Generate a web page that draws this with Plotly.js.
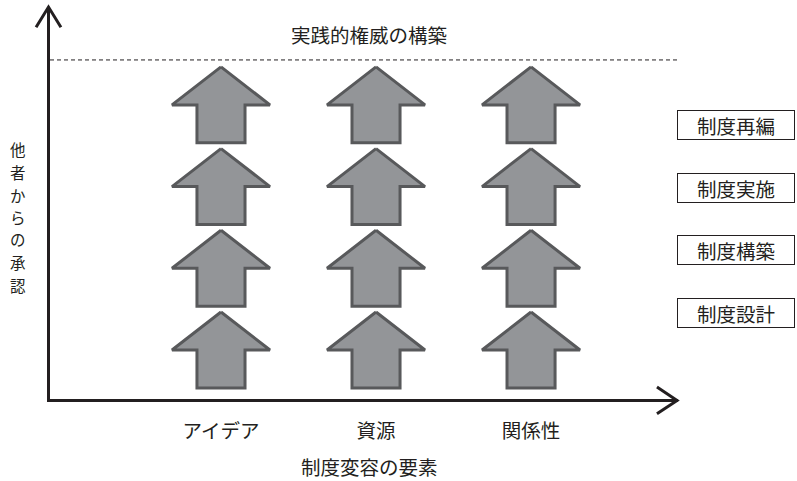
<!DOCTYPE html>
<html>
<head>
<meta charset="utf-8">
<script src="https://cdn.plot.ly/plotly-3.0.1.min.js"></script>
<style>html,body{margin:0;padding:0;background:#fff;}#chart{width:797px;height:481px;}</style>
</head>
<body>
<div id="chart"></div>
<script>
// ---- data ----
const elements = ["アイデア", "資源", "関係性"];          // x categories (制度変容の要素)
const stages = ["制度設計", "制度構築", "制度実施", "制度再編"]; // levels, bottom to top
const stageLabelY = [0.453, 1.224, 1.983, 2.754];        // level-box positions (data units)
const xTitle = "制度変容の要素";
const yTitle = "他者からの承認";
const topLabel = "実践的権威の構築";
const topLevel = 3.55;

// ---- styles ----
const FONT = "Noto Sans CJK JP, Noto Sans, sans-serif";
const INK = "#231f20";
const FS = 19.5;

// arrow geometry (data units)
const HW = 0.316, SW = 0.155, HH = 0.465;

const xs = [], ys = [];
elements.forEach((e, c) => {
  stages.forEach((s, l) => {
    const pts = [
      [c, l + HH], [c + HW, l], [c + SW, l], [c + SW, l - HH],
      [c - SW, l - HH], [c - SW, l], [c - HW, l], [c, l + HH]
    ];
    pts.forEach(p => { xs.push(p[0]); ys.push(p[1]); });
    xs.push(null); ys.push(null);
  });
});

const arrows = {
  type: "scatter", mode: "lines", x: xs, y: ys,
  fill: "toself", fillcolor: "#939598",
  line: {color: "#58595b", width: 3},
  connectgaps: false, hoverinfo: "skip", showlegend: false
};

const annotations = [];
// top label
annotations.push({xref: "paper", yref: "paper", x: 0.508, y: 0.931, text: topLabel,
  showarrow: false, font: {family: FONT, size: FS, color: INK}, xanchor: "center", yanchor: "middle"});
// x title
annotations.push({xref: "paper", yref: "paper", x: 0.508, y: -0.173, text: xTitle,
  showarrow: false, font: {family: FONT, size: FS, color: INK}, xanchor: "center", yanchor: "middle"});
// vertical y title (one character per line, spaced so they don't collide)
const yChars = Array.from(yTitle);
const pitch = 22.5, midPx = 217;
yChars.forEach((ch, i) => {
  const px = midPx + (i - (yChars.length - 1) / 2) * pitch;
  annotations.push({xref: "paper", yref: "paper", x: -0.051, y: (399 - px) / 392,
    text: ch, showarrow: false, font: {family: FONT, size: 15.5, color: INK},
    xanchor: "center", yanchor: "middle"});
});
// stage boxes
stages.forEach((s, i) => {
  annotations.push({xref: "paper", yref: "y", x: 1.092, y: stageLabelY[i], text: s,
    showarrow: false, font: {family: FONT, size: FS, color: INK},
    xanchor: "center", yanchor: "middle",
    width: 114, height: 26, borderpad: 1, borderwidth: 1, bordercolor: INK, bgcolor: "#fff"});
});

const shapes = [
  // dashed line
  {type: "line", xref: "paper", yref: "y", x0: 0, x1: 1.003, y0: topLevel, y1: topLevel,
   line: {color: INK, width: 1, dash: "4px,3px"}},
  // y-axis arrowhead
  {type: "path", xref: "paper", yref: "paper",
   path: "M -0.0222,0.9485 L -0.0024,1.0 L 0.0174,0.9485", line: {color: INK, width: 3}},
  // x-axis arrowhead
  {type: "path", xref: "paper", yref: "paper",
   path: "M 0.9665,0.0306 L 0.9985,-0.0036 L 0.9665,-0.0378", line: {color: INK, width: 3}}
];

const layout = {
  width: 797, height: 481,
  margin: {l: 50, r: 119, t: 7, b: 82},
  paper_bgcolor: "#fff", plot_bgcolor: "#fff",
  showlegend: false,
  xaxis: {range: [-1.103, 2.948], showline: true, linewidth: 3, linecolor: INK,
    showgrid: false, zeroline: false, tickvals: [0, 1, 2], ticktext: elements,
    ticks: "outside", ticklen: 13, tickcolor: "rgba(0,0,0,0)",
    tickfont: {family: FONT, size: FS, color: INK}, fixedrange: true},
  yaxis: {range: [-0.600, 4.198], showline: true, linewidth: 3, linecolor: INK,
    showgrid: false, zeroline: false, showticklabels: false, ticks: "", fixedrange: true},
  shapes: shapes,
  annotations: annotations
};

Plotly.newPlot("chart", [arrows], layout, {displayModeBar: false, staticPlot: true});
</script>
</body>
</html>
